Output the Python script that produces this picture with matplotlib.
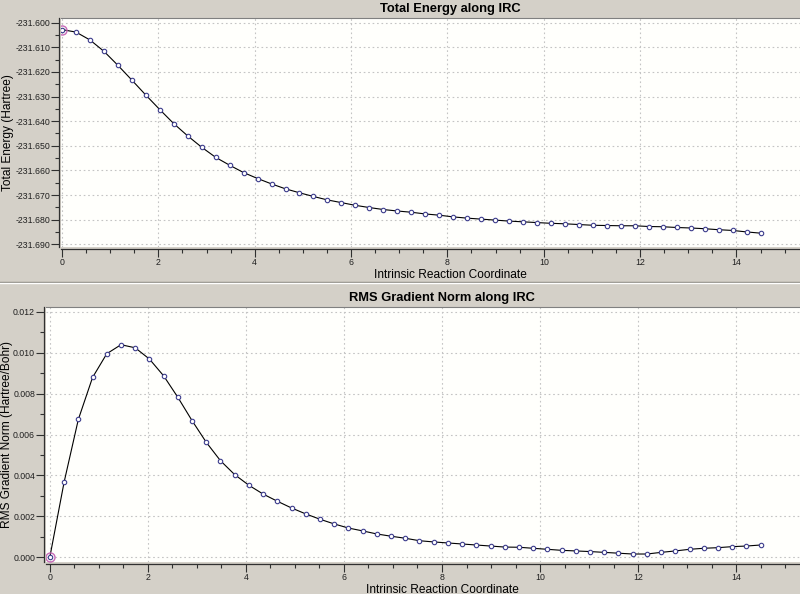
import matplotlib
matplotlib.use("Agg")
import matplotlib.pyplot as plt
import numpy as np
from matplotlib.ticker import MultipleLocator, FormatStrFormatter
from matplotlib.lines import Line2D

plt.rcParams['font.family'] = ['Liberation Sans', 'DejaVu Sans']

# IRC points (reaction coordinate)
irc = [0.00, 0.29, 0.58, 0.87, 1.16, 1.45, 1.74, 2.03, 2.32, 2.61,
       2.90, 3.19, 3.48, 3.77, 4.06, 4.35, 4.64, 4.93, 5.22, 5.51,
       5.80, 6.09, 6.38, 6.67, 6.96, 7.25, 7.54, 7.83, 8.12, 8.41,
       8.70, 8.99, 9.28, 9.57, 9.86, 10.15, 10.44, 10.73, 11.02, 11.31,
       11.60, 11.89, 12.18, 12.47, 12.76, 13.05, 13.34, 13.63, 13.92, 14.21,
       14.50]

# Total energy (Hartree)
energy = [-231.6028, -231.6038, -231.6070, -231.6116, -231.6173, -231.6233,
          -231.6294, -231.6353, -231.6410, -231.6460, -231.6506, -231.6547,
          -231.6579, -231.6609, -231.6633, -231.6655, -231.6675, -231.6691,
          -231.6706, -231.6720, -231.6731, -231.6742, -231.6751, -231.6759,
          -231.6765, -231.6770, -231.6777, -231.6782, -231.6789, -231.6794,
          -231.6798, -231.6802, -231.6806, -231.6809, -231.6812, -231.6815,
          -231.6817, -231.6820, -231.6823, -231.6824, -231.6825, -231.6825,
          -231.6828, -231.6829, -231.6832, -231.6834, -231.6837, -231.6841,
          -231.6844, -231.6850, -231.6855]

# RMS gradient norm (Hartree/Bohr)
grad = [0.00003, 0.00368, 0.00674, 0.00879, 0.00995, 0.01039, 0.01024,
        0.00969, 0.00887, 0.00782, 0.00668, 0.00562, 0.00472, 0.00404,
        0.00352, 0.00309, 0.00274, 0.00241, 0.00212, 0.00186, 0.00163,
        0.00143, 0.00129, 0.00114, 0.00103, 0.00093, 0.00081, 0.00075,
        0.00070, 0.00065, 0.00060, 0.00055, 0.00050, 0.00049, 0.00044,
        0.00039, 0.00034, 0.00031, 0.00028, 0.00024, 0.00020, 0.00016,
        0.00016, 0.00024, 0.00031, 0.00039, 0.00044, 0.00047, 0.00052,
        0.00055, 0.00060]

x_major = [0, 2, 4, 6, 8, 10, 12, 14]

bg = '#d4d0c8'
fig = plt.figure(figsize=(8, 5.94), dpi=100, facecolor=bg)

ax1 = fig.add_axes([0.0763, 0.5847, 0.9725, 0.3845])
ax2 = fig.add_axes([0.0575, 0.0544, 0.99, 0.4283])


def style(ax, y, title, ylabel, ymajor, ylab_x):
    ax.set_facecolor('#fffffc')
    ax.plot(irc, y, color='black', lw=0.8, zorder=3,
            marker='o', ms=3.2, mfc='white', mec='#3c3c8c', mew=0.8)
    # highlighted starting point
    ax.plot(irc[0], y[0], 'o', ms=6.5, mfc='none',
            mec='#c86ab8', mew=1.0, zorder=4)
    ax.set_title(title, fontsize=9.3, fontweight='bold', pad=4.8)
    ax.set_xlabel('Intrinsic Reaction Coordinate', fontsize=8.6, labelpad=2)
    ax.set_ylabel(ylabel, fontsize=8.6)
    ax.yaxis.set_label_coords(ylab_x, 0.5)
    ax.set_xticks(x_major)
    ax.set_xticks(np.arange(0, 15.6, 0.5), minor=True)
    ax.yaxis.set_major_locator(MultipleLocator(ymajor))
    ax.yaxis.set_minor_locator(MultipleLocator(ymajor / 2))
    ax.yaxis.set_major_formatter(FormatStrFormatter('%.3f'))
    ax.tick_params(which='major', length=5.5, width=0.8, color='#303030',
                   labelsize=6.3, labelcolor='#202020', pad=0.8)
    ax.tick_params(which='minor', length=3.2, width=0.8, color='#303030')
    ax.spines['right'].set_visible(False)
    ax.spines['top'].set_color('#808080')
    for s in ('left', 'bottom'):
        ax.spines[s].set_position(('outward', 1.6))
        ax.spines[s].set_color('#303030')
        ax.spines[s].set_linewidth(0.9)
    ax.grid(True, which='major', color='#c4c4c4', ls=(0, (1.5, 2.5)), lw=0.8)
    ax.set_axisbelow(True)


style(ax1, energy, 'Total Energy along IRC', 'Total Energy (Hartree)',
      0.01, -0.0610)
ax1.set_xlim(-0.02, 16.13)
ax1.set_ylim(-231.6910, -231.5982)

style(ax2, grad, 'RMS Gradient Norm along IRC',
      'RMS Gradient Norm (Hartree/Bohr)', 0.002, -0.0418)
ax2.set_xlim(-0.08, 16.08)
ax2.set_ylim(-0.000215, 0.01222)

# etched separator between the two panels
fig.add_artist(Line2D([0, 1], [1 - 281.7 / 594] * 2, color='#8a8780', lw=1.0))
fig.add_artist(Line2D([0, 1], [1 - 283.2 / 594] * 2, color='#ffffff', lw=1.0))

fig.savefig('out.png', dpi=100, facecolor=bg)
